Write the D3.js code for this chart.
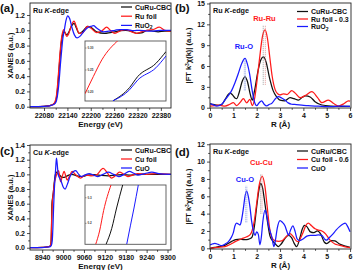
<!DOCTYPE html>
<html><head><meta charset="utf-8">
<script src="https://cdn.jsdelivr.net/npm/d3@7"></script>
<style>
body{margin:0;background:#fff}
svg{display:block}
text{font-family:"Liberation Sans",Arial,sans-serif;font-weight:bold;fill:#111}
</style>
</head><body><svg id="chart" width="355" height="270"></svg>
<script>
// ---------- DATA ----------
// (a) Ru K-edge XANES  [energy eV, normalized]
const ruXanesCuRuCBC = [[22044,0],[22060,0],[22080,0.005],[22095,0.015],[22103,0.03],[22108,0.05],[22112,0.12],[22115,0.25],[22118,0.45],[22121,0.65],[22124,0.82],[22127,0.93],[22131,0.98],[22135,0.96],[22138,0.94],[22143,0.97],[22150,1.05],[22157,1.09],[22163,1.03],[22170,0.96],[22180,0.99],[22192,1.05],[22200,1.04],[22215,0.98],[22235,0.96],[22250,0.97],[22262,0.98],[22275,0.995],[22290,1.0],[22305,0.985],[22318,0.96],[22330,0.965],[22345,1.0],[22360,0.99],[22373,0.98],[22390,0.99],[22406,0.99]];
const ruXanesRuFoil = [[22044,0],[22080,0.005],[22095,0.015],[22103,0.03],[22108,0.06],[22112,0.15],[22115,0.3],[22118,0.5],[22121,0.7],[22124,0.86],[22127,0.96],[22131,1.01],[22134,0.97],[22138,0.92],[22143,0.95],[22150,1.06],[22157,1.12],[22163,1.05],[22170,0.96],[22180,0.97],[22191,1.05],[22200,1.03],[22215,0.97],[22228,0.99],[22241,1.04],[22250,1.0],[22262,0.96],[22275,0.99],[22290,1.01],[22305,0.98],[22318,0.96],[22330,0.98],[22345,1.0],[22360,1.01],[22376,1.04],[22390,1.0],[22406,0.99]];
const ruXanesRuO2 = [[22044,0],[22080,0.005],[22095,0.012],[22103,0.025],[22108,0.04],[22112,0.08],[22116,0.2],[22119,0.35],[22122,0.55],[22125,0.72],[22128,0.88],[22132,1.0],[22136,1.12],[22141,1.19],[22146,1.15],[22152,1.03],[22158,0.94],[22165,0.9],[22172,0.92],[22180,0.97],[22191,1.03],[22200,1.05],[22207,1.06],[22215,1.03],[22232,0.98],[22250,0.99],[22262,1.0],[22275,1.01],[22292,1.01],[22310,0.995],[22326,1.0],[22345,0.99],[22361,0.99],[22380,1.0],[22406,1.0]];
// (a) inset (zoom of the edge)
const ruInsetCuRuCBC = [[22117.38,0.18],[22118.2,0.21],[22118.6,0.235],[22119.5,0.265],[22120.0,0.292]];
const ruInsetRuFoil = [[22116.0,0.196],[22116.41,0.235],[22116.83,0.273],[22117.65,0.318]];
const ruInsetRuO2 = [[22117.38,0.18],[22118.2,0.205],[22118.6,0.227],[22119.5,0.255],[22120.0,0.282]];
const ruInsetTicks = [0.20,0.25,0.30];

// (b) Ru K-edge FT-EXAFS [R Å, magnitude]
const ruFtCuRuCBC = [[0,0.6],[0.1,0.5],[0.21,0.4],[0.35,0.35],[0.5,0.45],[0.65,1.2],[0.78,1.9],[0.86,2.1],[0.95,1.9],[1.07,1.4],[1.14,1.3],[1.25,2.2],[1.38,3.8],[1.5,4.45],[1.6,3.8],[1.72,2.0],[1.81,1.1],[1.9,2.3],[2.05,5.2],[2.18,6.9],[2.29,7.3],[2.4,6.6],[2.55,4.3],[2.7,2.5],[2.85,1.6],[3.0,1.1],[3.2,1.0],[3.43,1.45],[3.6,1.3],[3.79,1.1],[3.95,1.5],[4.1,1.7],[4.29,1.55],[4.5,0.87],[4.79,0.39],[5.2,0.24],[5.6,0.2],[6,0.2]];
const ruFtRuFoil = [[0,0.24],[0.2,0.3],[0.36,0.38],[0.5,0.3],[0.64,0.24],[0.85,0.5],[1.0,0.75],[1.14,0.3],[1.3,0.8],[1.43,1.3],[1.57,0.7],[1.71,1.2],[1.81,0.3],[1.92,1.5],[2.0,3.5],[2.12,7.0],[2.25,10.3],[2.36,11.2],[2.46,10.0],[2.56,7.3],[2.66,4.6],[2.79,2.6],[2.9,2.0],[3.0,1.85],[3.14,2.0],[3.3,1.9],[3.5,2.45],[3.65,2.1],[3.86,1.44],[4.1,1.8],[4.36,2.3],[4.6,1.5],[4.79,0.72],[5.07,1.1],[5.3,0.6],[5.5,0.24],[5.75,0.6],[5.93,1.0],[6,0.95]];
const ruFtRuO2 = [[0,0.6],[0.15,0.4],[0.29,0.24],[0.5,0.5],[0.64,1.1],[0.8,1.8],[0.93,2.5],[1.07,3.6],[1.21,4.9],[1.35,6.3],[1.5,7.1],[1.6,6.3],[1.7,4.8],[1.8,2.6],[1.9,0.9],[2.0,0.3],[2.1,0.7],[2.21,1.0],[2.32,0.5],[2.43,0.25],[2.55,0.5],[2.64,0.6],[2.8,1.3],[2.93,1.6],[3.07,1.4],[3.21,1.1],[3.35,0.7],[3.5,0.5],[3.7,0.45],[3.93,0.38],[4.2,0.3],[4.5,0.24],[4.8,0.2],[5.07,0.14],[5.4,0.2],[5.64,0.24],[6,0.2]];

// (c) Cu K-edge XANES
const cuXanesCuRuCBC = [[8905,0],[8940,0.005],[8955,0.01],[8962,0.02],[8965,0.05],[8967,0.3],[8968,0.6],[8970,0.68],[8972,0.75],[8975,0.9],[8978,1.0],[8981,1.03],[8985,1.01],[8990,0.99],[8997,0.96],[9003,0.96],[9012,0.98],[9025,1.0],[9040,0.98],[9055,0.97],[9070,0.99],[9090,0.995],[9110,0.985],[9130,0.98],[9150,0.99],[9170,0.995],[9195,0.99],[9220,1.0],[9250,1.0],[9280,1.0],[9310,1.0]];
const cuXanesCuFoil = [[8905,0],[8940,0.005],[8955,0.01],[8962,0.02],[8965,0.06],[8967,0.35],[8969,0.6],[8972,0.75],[8975,0.88],[8979,0.96],[8983,1.02],[8987,1.05],[8990,0.98],[8993,0.9],[8998,0.98],[9003,1.04],[9008,0.97],[9012,0.92],[9018,0.97],[9026,1.04],[9035,1.0],[9050,0.95],[9064,0.99],[9080,0.98],[9095,0.99],[9115,1.08],[9127,1.02],[9139,0.95],[9150,0.98],[9162,1.03],[9175,1.0],[9186,0.97],[9200,0.99],[9214,1.01],[9240,1.0],[9270,1.01],[9310,1.0]];
const cuXanesCuO = [[8905,0],[8940,0.003],[8960,0.01],[8966,0.03],[8969,0.1],[8971,0.3],[8973,0.58],[8975,0.8],[8977,0.95],[8979,1.1],[8981,1.22],[8983,1.15],[8986,1.0],[8990,0.95],[8995,0.9],[9000,0.83],[9006,0.8],[9012,0.86],[9020,0.97],[9030,1.04],[9036,1.05],[9045,1.0],[9052,0.97],[9062,0.99],[9075,1.01],[9088,0.99],[9100,0.97],[9115,1.0],[9130,1.03],[9145,1.0],[9160,0.97],[9175,1.0],[9190,1.04],[9205,1.01],[9215,0.99],[9235,1.01],[9255,1.03],[9275,1.01],[9310,1.0]];
// (c) inset
const cuInsetCuRuCBC = [[8968.6,0.118],[8969.3,0.18],[8969.9,0.26],[8970.65,0.35]];
const cuInsetCuFoil = [[8967.32,0.118],[8967.8,0.17],[8968.3,0.25],[8969.21,0.35]];
const cuInsetCuO = [[8971.15,0.118],[8971.6,0.19],[8972.05,0.26],[8972.58,0.35]];
const cuInsetTicks = [0.2,0.3];

// (d) FT-EXAFS (Cu)
const cuFtCuRuCBC = [[0,0],[0.2,0.1],[0.36,0.2],[0.6,0.3],[0.8,0.6],[0.93,0.8],[1.1,1.0],[1.29,1.05],[1.45,1.0],[1.57,1.0],[1.7,1.1],[1.8,1.3],[1.9,2.5],[2.0,4.8],[2.1,6.8],[2.17,7.5],[2.25,7.0],[2.35,5.2],[2.45,3.3],[2.57,1.4],[2.7,0.8],[2.8,0.5],[2.93,0.2],[3.05,0.5],[3.2,1.1],[3.36,1.5],[3.5,1.2],[3.6,0.6],[3.71,0.2],[3.85,1.2],[3.95,2.2],[4.05,2.65],[4.15,2.5],[4.3,1.9],[4.45,1.8],[4.6,2.0],[4.75,1.6],[4.9,0.7],[5.0,0.55],[5.2,0.9],[5.35,0.85],[5.55,0.5],[5.8,0.25],[6,0.1]];
const cuFtCuFoil = [[0,0],[0.3,0.1],[0.64,0.2],[0.9,0.5],[1.1,0.8],[1.36,1.1],[1.55,1.3],[1.71,1.55],[1.8,2.0],[1.9,3.2],[2.0,5.2],[2.1,7.2],[2.24,8.3],[2.35,7.2],[2.45,4.8],[2.55,2.4],[2.64,1.3],[2.79,0.85],[2.95,0.8],[3.07,0.85],[3.25,1.3],[3.43,1.7],[3.55,1.4],[3.7,0.85],[3.79,0.77],[3.9,1.3],[4.0,1.9],[4.1,2.6],[4.21,2.9],[4.35,2.6],[4.5,2.25],[4.65,2.1],[4.79,2.0],[4.9,1.8],[5.0,1.5],[5.1,1.1],[5.21,0.77],[5.35,0.5],[5.5,0.38],[5.75,0.2],[6,0.08]];
const cuFtCuO = [[0,0.38],[0.1,0.5],[0.21,0.58],[0.35,0.45],[0.5,0.3],[0.65,0.5],[0.79,0.77],[0.9,1.2],[1.0,1.8],[1.07,2.6],[1.14,2.9],[1.22,2.8],[1.29,2.7],[1.36,3.4],[1.43,4.6],[1.5,6.0],[1.57,6.6],[1.64,6.0],[1.71,4.8],[1.78,3.2],[1.86,2.0],[1.93,1.5],[2.0,1.9],[2.07,1.6],[2.14,0.4],[2.2,1.3],[2.26,3.0],[2.36,4.4],[2.43,3.8],[2.5,2.7],[2.57,2.0],[2.64,1.4],[2.74,0.2],[2.8,0.9],[2.88,2.3],[3.0,3.2],[3.1,3.0],[3.21,2.6],[3.3,1.9],[3.36,1.5],[3.45,2.1],[3.55,2.6],[3.65,1.9],[3.73,1.1],[3.85,0.9],[4.0,1.1],[4.15,1.4],[4.3,1.5],[4.5,1.5],[4.65,1.55],[4.79,1.5],[4.93,1.0],[5.0,0.95],[5.1,1.2],[5.25,1.6],[5.4,2.1],[5.55,2.5],[5.7,2.8],[5.79,2.9],[5.9,2.5],[6,1.9]];

// ticks
const ruEnergyTicks = [22080,22140,22200,22260,22320,22380];
const cuEnergyTicks = [8940,9000,9060,9120,9180,9240,9300];
const xanesYTicksA = [0,0.2,0.4,0.6,0.8,1.0,1.2];
const xanesYTicksC = [0,0.2,0.4,0.6,0.8,1.0,1.2,1.4];
const rTicks = [0,1,2,3,4,5,6];
const ftYTicksB = [0,3,6,9,12,15];
const ftYTicksD = [0,2,4,6,8,10,12];

// legend labels
const legendA = ["CuRu-CBC","Ru foil","RuO|2"];
const legendB = ["CuRu-CBC","Ru foil - 0.3","RuO|2"];
const legendC = ["CuRu-CBC","Cu foil","CuO"];
const legendD = ["CuRu/CBC","Cu foil - 0.6","CuO"];
// peak markers [R, low, high]
const markB = {label:"Ru-O", pos:[1.45,8.4], lines:[[1.47,2.5,7.0],[1.52,2.5,7.0]], lab2:"Ru-Ru", pos2:[2.33,12.5], lines2:[[2.28,3.3,11.8],[2.37,3.3,11.8]]};
const markD = {label:"Cu-O", pos:[1.5,7.7], lines:[[1.53,3.0,7.2],[1.58,3.0,7.2]], lab2:"Cu-Cu", pos2:[2.2,9.6], lines2:[[2.17,4.0,8.6],[2.23,4.0,8.6]]};

// ---------- DRAW ----------
const COLORS = ["#111111","#ff1a1a","#1a1aff"];
const svg = d3.select("#chart");
let clipId = 0;

function fmt1(d){return d3.format(".1f")(d);}

function drawPanel(o){
  const x = d3.scaleLinear().domain(o.xDomain).range([o.x0,o.x1]);
  const y = d3.scaleLinear().domain(o.yDomain).range([o.yBot,o.yTop]);
  const g = svg.append("g");
  const id = "clip"+(clipId++);
  g.append("clipPath").attr("id",id).append("rect")
    .attr("x",o.x0).attr("y",o.yTop).attr("width",o.x1-o.x0).attr("height",o.yBot-o.yTop);

  const xMinor = [];
  for(let i=0;i<o.xTicks.length-1;i++) xMinor.push((o.xTicks[i]+o.xTicks[i+1])/2);
  const yMinor = [];
  for(let i=0;i<o.yTicks.length-1;i++) yMinor.push((o.yTicks[i]+o.yTicks[i+1])/2);

  const xa = g.append("g").attr("transform",`translate(0,${o.yBot})`)
    .call(d3.axisBottom(x).tickValues(o.xTicks).tickSize(3).tickSizeOuter(0).tickPadding(2).tickFormat(o.xFmt));
  const xm = g.append("g").attr("transform",`translate(0,${o.yBot})`)
    .call(d3.axisBottom(x).tickValues(xMinor).tickSize(1.8).tickSizeOuter(0).tickFormat(""));
  const ya = g.append("g").attr("transform",`translate(${o.x0},0)`)
    .call(d3.axisLeft(y).tickValues(o.yTicks).tickSize(3).tickSizeOuter(0).tickPadding(2).tickFormat(o.yFmt));
  const ym = g.append("g").attr("transform",`translate(${o.x0},0)`)
    .call(d3.axisLeft(y).tickValues(yMinor).tickSize(1.8).tickSizeOuter(0).tickFormat(""));
  [xa,xm,ya,ym].forEach(a=>{
    a.select(".domain").remove();
    a.selectAll("line").attr("stroke","#222").attr("stroke-width",0.8);
    a.selectAll("text").style("font-size","7px").style("font-weight","bold").attr("fill","#222");
  });

  const line = d3.line().x(d=>x(d[0])).y(d=>y(d[1])).curve(d3.curveMonotoneX);
  const lg = g.append("g").attr("clip-path",`url(#${id})`);
  o.series.forEach((s,i)=>{
    lg.append("path").datum(s).attr("d",line).attr("fill","none")
      .attr("stroke",COLORS[i]).attr("stroke-width",1.25).attr("stroke-linejoin","round");
  });
  g.append("rect").attr("x",o.x0).attr("y",o.yTop).attr("width",o.x1-o.x0).attr("height",o.yBot-o.yTop)
    .attr("fill","none").attr("stroke","#222").attr("stroke-width",0.9);

  if(o.mark){
    const m=o.mark;
    [[m.lines,"#7f8fe0","#8c9ee8"],[m.lines2,"#888","#e07a7a"]].forEach(([ls,c1,c2])=>{
      ls.forEach((l,j)=>{
        g.append("line").attr("x1",x(l[0])).attr("x2",x(l[0])).attr("y1",y(l[1])).attr("y2",y(l[2]))
          .attr("stroke",j==0?c1:c2).attr("stroke-width",0.8).attr("stroke-dasharray","1,1");
      });
    });
    g.append("text").attr("x",x(m.pos[0])).attr("y",y(m.pos[1])).attr("text-anchor","middle")
      .style("font-size","7.5px").style("fill",COLORS[2]).text(m.label);
    g.append("text").attr("x",x(m.pos2[0])).attr("y",y(m.pos2[1])).attr("text-anchor","middle")
      .style("font-size","7.5px").style("fill",COLORS[1]).text(m.lab2);
  }

  if(o.inset){
    const ins=o.inset;
    const ix = d3.scaleLinear().domain(ins.xDomain).range([ins.x0,ins.x1]);
    const iy = d3.scaleLinear().domain(ins.yDomain).range([ins.yBot,ins.yTop]);
    const iid = "clip"+(clipId++);
    g.append("clipPath").attr("id",iid).append("rect")
      .attr("x",ins.x0).attr("y",ins.yTop).attr("width",ins.x1-ins.x0).attr("height",ins.yBot-ins.yTop);
    g.append("rect").attr("x",ins.x0).attr("y",ins.yTop).attr("width",ins.x1-ins.x0).attr("height",ins.yBot-ins.yTop)
      .attr("fill","#fff").attr("stroke","#555").attr("stroke-width",0.9);
    const il = d3.line().x(d=>ix(d[0])).y(d=>iy(d[1])).curve(d3.curveMonotoneX);
    const ig = g.append("g").attr("clip-path",`url(#${iid})`);
    ins.series.forEach((s,i)=>{
      ig.append("path").datum(s).attr("d",il).attr("fill","none").attr("stroke",COLORS[i]).attr("stroke-width",1.0);
    });
    ins.ticks.forEach(t=>{
      g.append("line").attr("x1",ins.x0).attr("x2",ins.x0+1.5).attr("y1",iy(t)).attr("y2",iy(t)).attr("stroke","#555").attr("stroke-width",0.6);
      g.append("text").attr("x",ins.x0+2.5).attr("y",iy(t)+1).style("font-size","3px").style("fill","#333").text(ins.fmt(t));
    });
  }

  o.legend.forEach((t,i)=>{
    const ly = o.legY + i*o.legDy;
    g.append("line").attr("x1",o.legX).attr("x2",o.legX+11).attr("y1",ly).attr("y2",ly)
      .attr("stroke",COLORS[i]).attr("stroke-width",1.25);
    const tx = g.append("text").attr("x",o.legX+14).attr("y",ly+2.5).style("font-size","7px");
    const parts = t.split("|");
    tx.append("tspan").text(parts[0]);
    if(parts[1]) tx.append("tspan").attr("dy",1.5).style("font-size","5px").text(parts[1]);
  });

  const et = g.append("text").attr("x",o.x0+3).attr("y",o.yTop+10).style("font-size","7.2px");
  et.append("tspan").text(o.edge+" ");
  et.append("tspan").style("font-style","italic").text("K");
  et.append("tspan").text("-edge");

  g.append("text").attr("x",o.letX).attr("y",o.letY).style("font-size","11.5px").text(o.letter);

  g.append("text").attr("x",(o.x0+o.x1)/2).attr("y",o.yBot+19).attr("text-anchor","middle")
    .style("font-size","8px").text(o.xTitle);
  const yt = g.append("text").attr("transform",`translate(${o.yTitleX},${(o.yTop+o.yBot)/2}) rotate(-90)`)
    .attr("text-anchor","middle").style("font-size","7.5px");
  if(o.ft){
    yt.append("tspan").text("|FT k");
    yt.append("tspan").attr("dy",-2.5).style("font-size","5px").text("3");
    yt.append("tspan").attr("dy",2.5).text("χ(k)| (a.u.)");
  } else yt.text(o.yTitle);
}

drawPanel({x0:30,x1:171,yTop:3,yBot:108,xDomain:[22044,22406],yDomain:[-0.017,1.357],
  xTicks:ruEnergyTicks,yTicks:xanesYTicksA,xFmt:d3.format("d"),yFmt:fmt1,
  series:[ruXanesCuRuCBC,ruXanesRuFoil,ruXanesRuO2],
  legend:legendA,legX:121,legY:7,legDy:9.2,edge:"Ru",letter:"(a)",letX:0,letY:12,
  xTitle:"Energy (eV)",yTitle:"XANES (a.u.)",yTitleX:13,
  inset:{x0:85,x1:166,yTop:41,yBot:101,xDomain:[22116,22120],yDomain:[0.1795,0.316],
    series:[ruInsetCuRuCBC,ruInsetRuFoil,ruInsetRuO2],ticks:ruInsetTicks,fmt:d3.format(".2f")}});

drawPanel({x0:210,x1:351,yTop:3,yBot:108,xDomain:[0,6.04],yDomain:[-0.04,15.07],
  xTicks:rTicks,yTicks:ftYTicksB,xFmt:d3.format("d"),yFmt:d3.format("d"),
  series:[ruFtCuRuCBC,ruFtRuFoil,ruFtRuO2],
  legend:legendB,legX:297,legY:11.5,legDy:7.5,edge:"Ru",letter:"(b)",letX:175,letY:12,
  xTitle:"R (Å)",ft:true,yTitleX:191,mark:markB});

drawPanel({x0:30,x1:171,yTop:145,yBot:250,xDomain:[8905,9310],yDomain:[-0.031,1.4],
  xTicks:cuEnergyTicks,yTicks:xanesYTicksC,xFmt:d3.format("d"),yFmt:fmt1,
  series:[cuXanesCuRuCBC,cuXanesCuFoil,cuXanesCuO],
  legend:legendC,legX:121,legY:150,legDy:9,edge:"Cu",letter:"(c)",letX:0,letY:155,
  xTitle:"Energy (eV)",yTitle:"XANES (a.u.)",yTitleX:13,
  inset:{x0:85,x1:166,yTop:185,yBot:244.3,xDomain:[8966,8976],yDomain:[0.118,0.35],
    series:[cuInsetCuRuCBC,cuInsetCuFoil,cuInsetCuO],ticks:cuInsetTicks,fmt:d3.format(".1f")}});

drawPanel({x0:210,x1:351,yTop:144,yBot:249,xDomain:[0,6.04],yDomain:[-0.08,12.03],
  xTicks:rTicks,yTicks:ftYTicksD,xFmt:d3.format("d"),yFmt:d3.format("d"),
  series:[cuFtCuRuCBC,cuFtCuFoil,cuFtCuO],
  legend:legendD,legX:297,legY:151,legDy:8.5,edge:"Ru",letter:"(d)",letX:175,letY:156,
  xTitle:"R (Å)",ft:true,yTitleX:191,mark:markD});
</script></body></html>
